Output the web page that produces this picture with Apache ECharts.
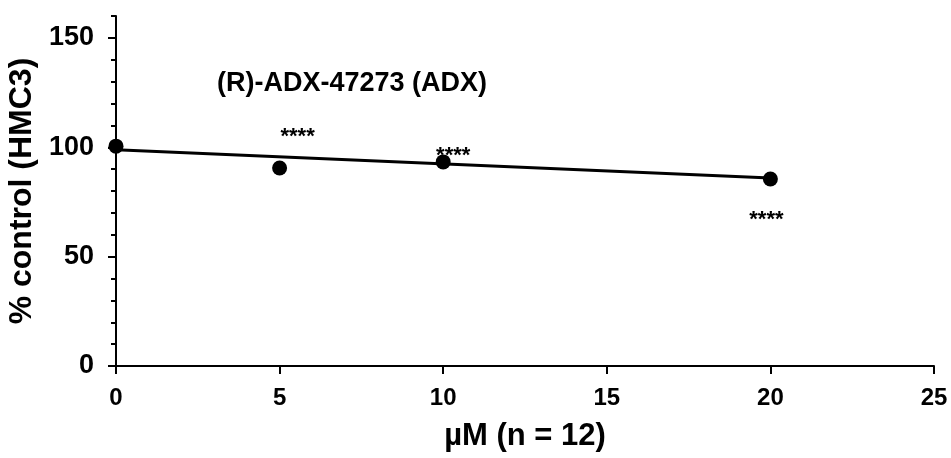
<!DOCTYPE html>
<html lang="en">
<head>
    <meta charset="UTF-8">
    <title>(R)-ADX-47273 (ADX)</title>
    <style>
        html, body { margin: 0; padding: 0; background: #fff; }
        #container { width: 951px; height: 458px; }
    </style>
</head>
<body>
    <div id="container"></div>
    <script type="text/javascript" src="https://cdn.jsdelivr.net/npm/echarts@6/dist/echarts.min.js"></script>
    <script>
        // concentrations (uM) and mean % control
        var doses = [0, 5, 10, 20];
        var means = [100.5, 90.5, 93.3, 85.5];
        var sigLabels = ['', '****', '****', '****'];
        // linear trend line drawn through the points
        var trendX = [0, 20];
        var trendY = [98.9, 85.9];
        var yTickLabels = [0, 50, 100, 150];

        var font = "'Liberation Sans', Arial, sans-serif";
        // where each star label sits relative to its point
        var starOffsets = [[0, 0], [18, -31], [10, -6], [-4, 41]];

        var points = doses.map(function (d, i) {
            var item = { value: [d, means[i]] };
            if (sigLabels[i]) {
                item.label = {
                    show: true,
                    formatter: sigLabels[i],
                    position: 'inside',
                    offset: starOffsets[i]
                };
            }
            return item;
        });
        var trend = trendX.map(function (x, i) {
            return [x, trendY[i]];
        });

        var myChart = echarts.init(document.getElementById('container'));
        var option = {
            animation: false,
            textStyle: { fontFamily: font },
            title: {
                text: '(R)-ADX-47273 (ADX)',
                left: 212,
                top: 65,
                textStyle: { fontSize: 27, fontWeight: 'bold', color: '#000', fontFamily: font }
            },
            grid: {
                left: 116, right: 17, top: 16, bottom: 92,
                containLabel: false,
                outerBoundsMode: 'none'
            },
            xAxis: {
                type: 'value',
                min: 0, max: 25, interval: 5,
                name: 'µM (n = 12)',
                nameLocation: 'middle',
                nameGap: 55,
                nameTextStyle: { fontSize: 31, fontWeight: 'bold', color: '#000', fontFamily: font },
                axisLine: { lineStyle: { color: '#000', width: 2 } },
                axisTick: { show: true, length: 8, lineStyle: { color: '#000', width: 2 } },
                axisLabel: { fontSize: 24, fontWeight: 'bold', color: '#000', margin: 20, fontFamily: font },
                splitLine: { show: false }
            },
            yAxis: [{
                type: 'value',
                min: 0, max: 160, interval: 10,
                name: '% control (HMC3)',
                nameLocation: 'middle',
                nameGap: 72,
                nameRotate: 90,
                nameTextStyle: { fontSize: 32, fontWeight: 'bold', color: '#000', fontFamily: font },
                axisLine: { show: true, lineStyle: { color: '#000', width: 2 } },
                axisTick: { show: true, length: 5, lineStyle: { color: '#000', width: 2 } },
                axisLabel: {
                    customValues: yTickLabels,
                    fontSize: 27, fontWeight: 'bold', color: '#000', margin: 22, fontFamily: font
                },
                splitLine: { show: false }
            }, {
                type: 'value',
                position: 'left',
                min: 0, max: 160,
                axisLine: { show: false },
                axisTick: { show: true, length: 8, customValues: yTickLabels, lineStyle: { color: '#000', width: 2 } },
                axisLabel: { show: false },
                splitLine: { show: false }
            }],
            series: [{
                type: 'line',
                data: trend,
                showSymbol: false,
                lineStyle: { color: '#000', width: 3 },
                z: 2
            }, {
                type: 'scatter',
                data: points,
                symbol: 'circle',
                symbolSize: 15,
                itemStyle: { color: '#000', opacity: 1 },
                label: { fontSize: 22, fontWeight: 'bold', color: '#000', fontFamily: font },
                z: 3
            }]
        };

        myChart.setOption(option);
    </script>
</body>
</html>
